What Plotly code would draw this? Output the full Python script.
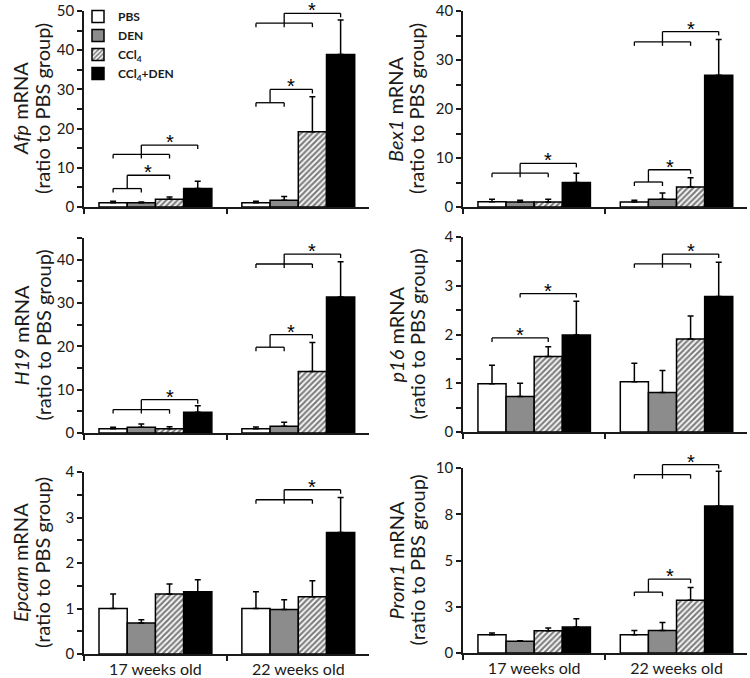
import plotly.graph_objects as go

# ---------------- data ----------------
categories = ["17 weeks old", "22 weeks old"]
group_names = ["PBS", "DEN", "CCl<sub>4</sub>", "CCl<sub>4</sub>+DEN"]

# rows: PBS, DEN, CCl4, CCl4+DEN ; columns: 17 wk, 22 wk
afp_mean = [[1.1, 1.1], [1.1, 1.7], [1.96, 19.2], [4.7, 38.9]]
afp_err = [[0.35, 0.35], [0.15, 1.0], [0.6, 8.9], [1.86, 8.8]]
bex1_mean = [[1.09, 1.0], [1.0, 1.57], [1.0, 4.09], [5.0, 26.9]]
bex1_err = [[0.48, 0.36], [0.36, 1.29], [0.57, 1.9], [1.87, 7.3]]
h19_mean = [[1.0, 1.0], [1.3, 1.54], [1.0, 14.2], [4.77, 31.4]]
h19_err = [[0.3, 0.4], [0.8, 0.96], [0.45, 6.7], [1.53, 8.1]]
p16_mean = [[0.99, 1.03], [0.73, 0.81], [1.55, 1.91], [1.99, 2.78]]
p16_err = [[0.38, 0.38], [0.27, 0.45], [0.2, 0.47], [0.69, 0.7]]
epcam_mean = [[1.0, 1.0], [0.68, 0.98], [1.32, 1.26], [1.37, 2.67]]
epcam_err = [[0.32, 0.37], [0.07, 0.21], [0.22, 0.35], [0.26, 0.77]]
prom1_mean = [[0.99, 0.99], [0.63, 1.22], [1.2, 2.85], [1.4, 7.95]]
prom1_err = [[0.09, 0.23], [0.03, 0.43], [0.15, 0.69], [0.45, 1.87]]

# y tick values / labels
afp_ticks = [0, 10, 20, 30, 40, 50]
bex1_ticks = [0, 10, 20, 30, 40]
h19_ticks = [0, 10, 20, 30, 40]
p16_ticks = [0, 1, 2, 3, 4]
epcam_ticks = [0, 1, 2, 3, 4]
prom1_ticks = [0, 2.5, 5, 7.5, 10]
prom1_ticktext = ["0", "3", "5", "8", "10"]

# significance brackets
# ("nest", category, grouped bars, target bar, lower level, upper level)
# ("pair", category, bar a, bar b, level)
afp_sig = [("nest", 0, [0, 1], 2, 4.7, 8.1), ("nest", 0, [0, 1, 2], 3, 13.4, 15.8),
           ("nest", 1, [0, 1], 2, 26.6, 30.0), ("nest", 1, [0, 1, 2], 3, 46.9, 49.4)]
bex1_sig = [("nest", 0, [0, 1, 2], 3, 6.9, 8.9),
            ("nest", 1, [0, 1], 2, 5.1, 7.6), ("nest", 1, [0, 1, 2], 3, 33.7, 35.8)]
h19_sig = [("nest", 0, [0, 1, 2], 3, 5.4, 7.7),
           ("nest", 1, [0, 1], 2, 19.8, 22.7), ("nest", 1, [0, 1, 2], 3, 39.0, 41.3)]
p16_sig = [("pair", 0, 0, 2, 1.93), ("pair", 0, 1, 3, 2.84),
           ("nest", 1, [0, 1, 2], 3, 3.45, 3.65)]
epcam_sig = [("nest", 1, [0, 1, 2], 3, 3.39, 3.61)]
prom1_sig = [("nest", 1, [0, 1], 2, 3.29, 3.99), ("nest", 1, [0, 1, 2], 3, 9.64, 10.18)]

# ---------------- layout constants ----------------
W, H = 750, 678
FONT = "Lato, 'Open Sans', sans-serif"
STAR_FONT = "'Liberation Sans', Arial, sans-serif"
INK = "#1a1a1a"
fills = ["white", "#8c8c8c", "white", "black"]
BARGAP = 0.21

panels = [
    dict(gene="Afp", mean=afp_mean, err=afp_err, top=50, ticks=afp_ticks, text=None, minor=5,
         sig=afp_sig, xpx=(84, 369), ypx=(11, 207), col=0),
    dict(gene="Bex1", mean=bex1_mean, err=bex1_err, top=40, ticks=bex1_ticks, text=None, minor=5,
         sig=bex1_sig, xpx=(463, 747), ypx=(11, 207), col=1),
    dict(gene="H19", mean=h19_mean, err=h19_err, top=45, ticks=h19_ticks, text=None, minor=5,
         sig=h19_sig, xpx=(84, 369), ypx=(238, 433), col=0),
    dict(gene="p16", mean=p16_mean, err=p16_err, top=4, ticks=p16_ticks, text=None, minor=0.5,
         sig=p16_sig, xpx=(463, 747), ypx=(237, 432), col=1),
    dict(gene="Epcam", mean=epcam_mean, err=epcam_err, top=4, ticks=epcam_ticks, text=None, minor=0.5,
         sig=epcam_sig, xpx=(84, 369), ypx=(472, 654), col=0),
    dict(gene="Prom1", mean=prom1_mean, err=prom1_err, top=10, ticks=prom1_ticks, text=prom1_ticktext,
         minor=None, sig=prom1_sig, xpx=(463, 747), ypx=(468, 653), col=1),
]

fig = go.Figure()
shapes = []
annotations = []

w = (1 - BARGAP) / 4.0
XR = (-0.5, 1.495)


def bar_x(cat, k):
    return cat + (k - 1.5) * w


def xdom(x):
    return (x - XR[0]) / (XR[1] - XR[0])


for i, p in enumerate(panels):
    n = "" if i == 0 else str(i + 1)
    xa, ya = "x" + n, "y" + n
    for k in range(4):
        marker = dict(color=fills[k], line=dict(color="black", width=1.5))
        if k == 2:
            marker["pattern"] = dict(shape="/", fgcolor="black", bgcolor="white", size=4, solidity=0.55)
        fig.add_trace(go.Bar(
            x=categories, y=p["mean"][k], name=group_names[k], marker=marker,
            error_y=dict(type="data", symmetric=False, array=p["err"][k], arrayminus=[0, 0],
                         color="black", thickness=1.5, width=3),
            xaxis=xa, yaxis=ya, showlegend=(i == 0), legendgroup=group_names[k],
        ))

    x0, x1 = p["xpx"]
    yt, yb = p["ypx"]
    last_row = i >= 4
    fig.layout["xaxis" + n] = dict(
        domain=[x0 / W, x1 / W], anchor=ya, type="category", categoryarray=categories,
        range=list(XR), tickson="boundaries", ticks="outside", ticklen=5, tickwidth=1.5,
        tickcolor=INK, showline=True, linecolor=INK, linewidth=1.5, showgrid=False,
        showticklabels=last_row, tickfont=dict(family=FONT, size=16, color=INK),
        fixedrange=True,
    )
    yax = dict(
        domain=[1 - yb / H, 1 - yt / H], anchor=xa, range=[0, p["top"]],
        tickvals=p["ticks"], ticks="outside", ticklen=5, tickwidth=1.5, tickcolor=INK,
        showline=True, linecolor=INK, linewidth=1.5, showgrid=False, zeroline=False,
        tickfont=dict(family=FONT, size=15, color=INK), fixedrange=True,
    )
    if p["text"] is not None:
        yax["ticktext"] = p["text"]
    if p["minor"] is not None:
        yax["minor"] = dict(dtick=p["minor"], tick0=0, ticks="outside", ticklen=5,
                            tickwidth=1.5, tickcolor=INK, showgrid=False)
    fig.layout["yaxis" + n] = yax

    # y-axis title (two lines)
    ymid = 1 - (yt + yb) / 2.0 / H
    tx = (20, 42) if p["col"] == 0 else (395, 416)
    annotations.append(dict(text="<i>%s</i> mRNA" % p["gene"], x=tx[0] / W, y=ymid, xref="paper",
                            yref="paper", textangle=-90, showarrow=False,
                            font=dict(family=FONT, size=20, color=INK), xanchor="center", yanchor="middle"))
    annotations.append(dict(text="(ratio to PBS group)", x=tx[1] / W, y=ymid, xref="paper",
                            yref="paper", textangle=-90, showarrow=False,
                            font=dict(family=FONT, size=20, color=INK), xanchor="center", yanchor="middle"))

    # significance brackets
    hpx = float(yb - yt)
    leg = 4.0 / hpx
    xr, yr = xa + " domain", ya + " domain"
    top = float(p["top"])

    def line(xa0, ya0, xa1, ya1):
        shapes.append(dict(type="line", xref=xr, yref=yr, x0=xa0, y0=ya0, x1=xa1, y1=ya1,
                           line=dict(color="black", width=1.3)))

    for s in p["sig"]:
        if s[0] == "nest":
            _, cat, grp, tgt, lo, hi = s
            xs = [xdom(bar_x(cat, b)) for b in grp]
            ylo, yhi = lo / top, hi / top
            line(xs[0], ylo, xs[-1], ylo)
            for xv in xs:
                line(xv, ylo, xv, ylo - leg)
            xm = (xs[0] + xs[-1]) / 2.0
            xt = xdom(bar_x(cat, tgt))
            line(xm, ylo, xm, yhi)
            line(xm, yhi, xt, yhi)
            line(xt, yhi, xt, yhi - leg)
            sx, sy = (xm + xt) / 2.0, yhi
        else:
            _, cat, a, b, lev = s
            xa_, xb_ = xdom(bar_x(cat, a)), xdom(bar_x(cat, b))
            yl = lev / top
            line(xa_, yl, xb_, yl)
            line(xa_, yl, xa_, yl - leg)
            line(xb_, yl, xb_, yl - leg)
            sx, sy = (xa_ + xb_) / 2.0, yl
        annotations.append(dict(text="*", x=sx, y=sy, xref=xr, yref=yr, showarrow=False,
                                xanchor="center", yanchor="bottom", yshift=-10,
                                font=dict(family=STAR_FONT, size=20, color="#000000")))

fig.update_layout(
    width=W, height=H, margin=dict(l=0, r=0, t=0, b=0, autoexpand=False),
    paper_bgcolor="white", plot_bgcolor="white",
    barmode="group", bargap=BARGAP, bargroupgap=0,
    shapes=shapes, annotations=annotations,
    legend=dict(xref="container", yref="container", x=78 / W, y=1 - 2 / H,
                xanchor="left", yanchor="top", bgcolor="rgba(0,0,0,0)",
                font=dict(family=FONT, size=12, color=INK, weight="bold"),
                itemclick=False, itemdoubleclick=False, tracegroupgap=0),
    font=dict(family=FONT, color=INK),
)

fig.write_html("out.html", config={"displayModeBar": False},
               post_script="document.body.style.margin='0';document.body.style.padding='0';")
